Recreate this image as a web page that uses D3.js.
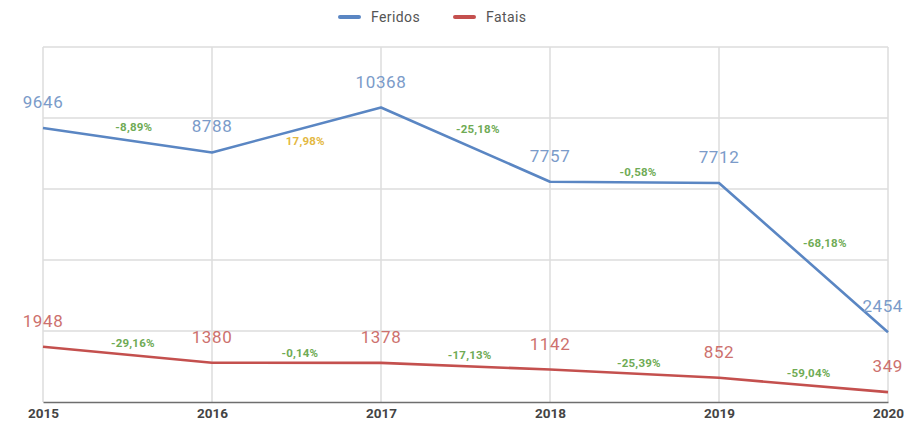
<!DOCTYPE html>
<html><head><meta charset="utf-8">
<script src="https://cdn.jsdelivr.net/npm/d3@7"></script>
<style>body{margin:0;background:#fff}svg{display:block}</style>
</head><body><div id="chart"></div>
<script>
const years = ["2015","2016","2017","2018","2019","2020"];
const feridos = [9646, 8788, 10368, 7757, 7712, 2454];
const fatais = [1948, 1380, 1378, 1142, 852, 349];
const feridosChange = ["-8,89%","17,98%","-25,18%","-0,58%","-68,18%"];
const fataisChange = ["-29,16%","-0,14%","-17,13%","-25,39%","-59,04%"];
const yTicks = [0, 2500, 5000, 7500, 10000, 12500];

const W = 904, H = 422;
const svg = d3.select("#chart").append("svg").attr("width", W).attr("height", H);
const x = d3.scalePoint().domain(years).range([43, 888]);
const y = d3.scaleLinear().domain([0, 12500]).range([402, 47]);

// grid
svg.append("g").selectAll("line").data(yTicks.slice(1)).join("line")
  .attr("x1", 43).attr("x2", 888).attr("y1", d => y(d)).attr("y2", d => y(d))
  .attr("stroke", "#dcdcdc").attr("stroke-width", 1.5);
svg.append("g").selectAll("line").data(years).join("line")
  .attr("x1", d => x(d)).attr("x2", d => x(d)).attr("y1", y(12500)).attr("y2", y(0))
  .attr("stroke", "#dcdcdc").attr("stroke-width", 1.5);
// baseline axis
const xAxis = d3.axisBottom(x).tickSize(0).tickPadding(6);
const gx = svg.append("g").attr("transform", `translate(0,${y(0)})`).call(xAxis);
gx.select(".domain").attr("stroke", "#6e6e6e").attr("stroke-width", 1.5);
gx.selectAll("text").attr("font-family", "Roboto, sans-serif").attr("font-size", 13.5)
  .attr("font-weight", "bold").attr("fill", "#444");

const series = [
  {name: "Feridos", vals: feridos, chg: feridosChange, color: "#5a86c3", label: "#7b9bc9"},
  {name: "Fatais", vals: fatais, chg: fataisChange, color: "#c4504e", label: "#cd716e"}
];
const line = d3.line().x((d, i) => x(years[i])).y(d => y(d));
series.forEach(s => {
  svg.append("path").datum(s.vals).attr("d", line).attr("fill", "none")
    .attr("stroke", s.color).attr("stroke-width", 2.6).attr("stroke-linejoin", "round");
  svg.append("g").selectAll("text").data(s.vals).join("text")
    .attr("x", (d, i) => x(years[i])).attr("y", d => y(d) - 20)
    .attr("text-anchor", "middle").attr("font-family", "Roboto, sans-serif")
    .attr("font-size", 17).attr("letter-spacing", 0.6).attr("fill", s.label).text(d => d)
    .each(function() {
      const b = this.getBBox();
      if (b.x + b.width > W - 1) d3.select(this).attr("x", +d3.select(this).attr("x") - (b.x + b.width - W + 1));
    });
  svg.append("g").selectAll("text").data(s.chg).join("text")
    .each(function(d, i) {
      const x0 = x(years[i]), x1 = x(years[i + 1]);
      const y0 = y(s.vals[i]), y1 = y(s.vals[i + 1]);
      const slope = Math.abs((y1 - y0) / (x1 - x0));
      const t = 0.52 + 0.12 * slope;
      const px = x0 + t * (x1 - x0), py = y0 + t * (y1 - y0);
      const up = s.vals[i + 1] > s.vals[i];
      const off = 10 + 26 * slope;
      d3.select(this).attr("x", px).attr("y", up ? py + off : py - off + 4)
        .attr("fill", up ? "#e3b842" : "#6fab55");
    })
    .attr("text-anchor", "middle").attr("font-family", "Roboto, sans-serif")
    .attr("font-size", 11.5).attr("font-weight", "bold").attr("letter-spacing", 0.2).text(d => d);
});

// legend
const lg = svg.append("g");
const items = [{n: "Feridos", c: "#5a86c3", x: 340}, {n: "Fatais", c: "#c4504e", x: 455}];
items.forEach(it => {
  lg.append("line").attr("x1", it.x).attr("x2", it.x + 19).attr("y1", 17).attr("y2", 17)
    .attr("stroke", it.c).attr("stroke-width", 4).attr("stroke-linecap", "round");
  lg.append("text").attr("x", it.x + 31).attr("y", 22).attr("font-family", "Roboto, sans-serif")
    .attr("font-size", 14).attr("fill", "#555").attr("letter-spacing", 0.4).text(it.n);
});
</script></body></html>
